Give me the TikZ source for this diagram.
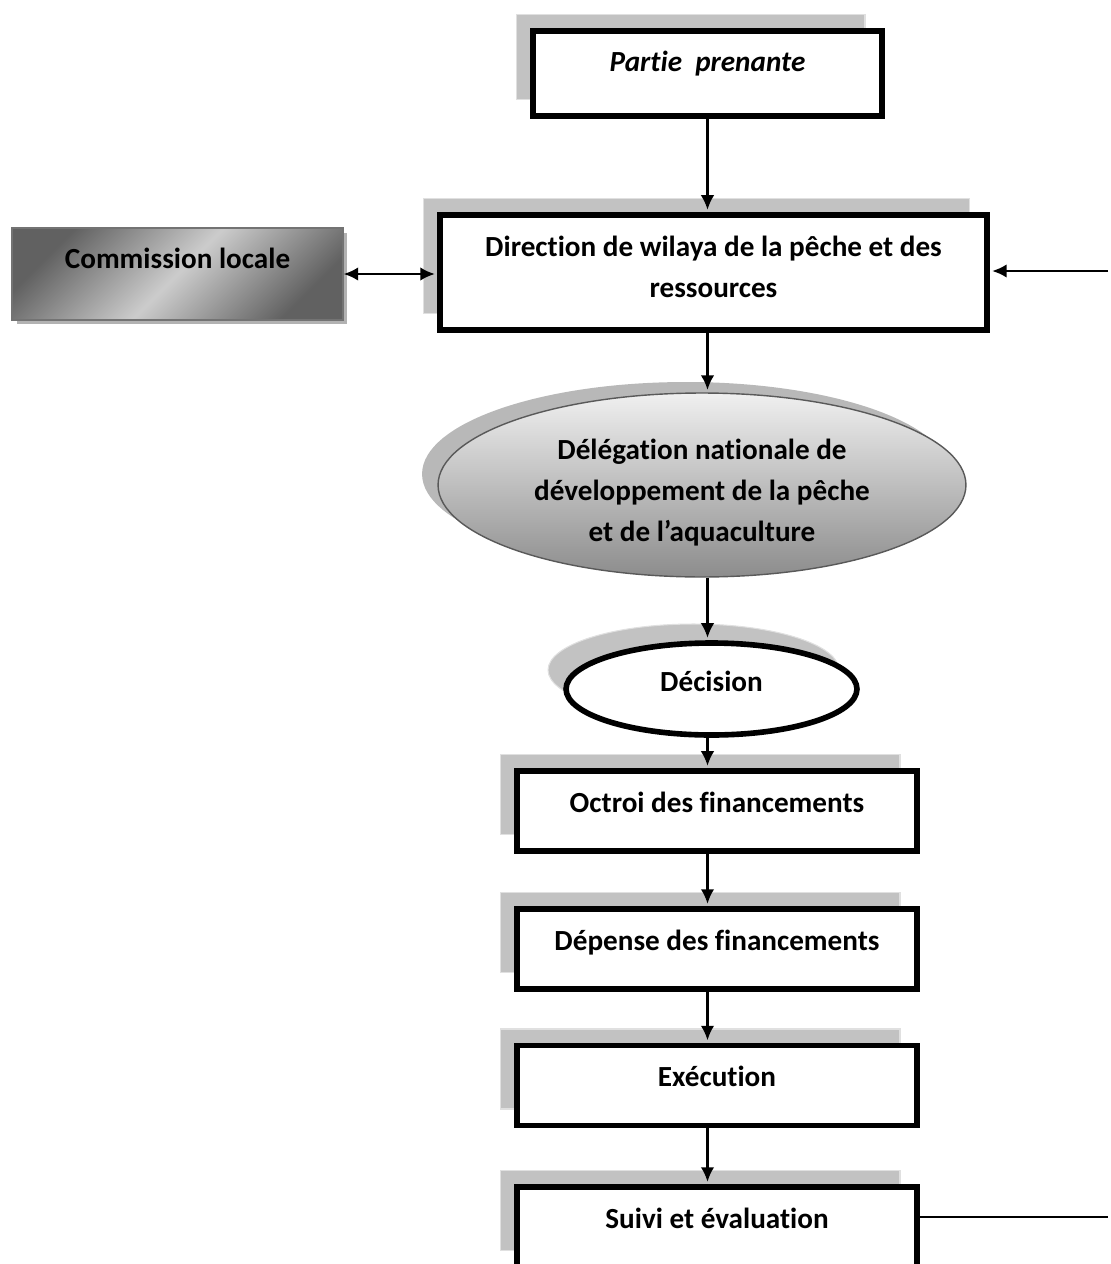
\documentclass[tikz,border=0pt]{standalone}
\usepackage{fontspec}
\setmainfont{Carlito}[Ligatures=NoCommon]
\usepackage{tikz}
\usetikzlibrary{arrows.meta, shapes.geometric, shadows}

\begin{document}
\begin{tikzpicture}[
    x=0.02cm, y=-0.02cm,
    every node/.style={font=\fontsize{16.6}{23.5}\selectfont\bfseries},
    stage/.style={
      rectangle,
      draw=black,
      line width=3.2pt,
      fill=white,
      align=center,
      minimum width=8cm,
      minimum height=1.6cm,
      drop shadow={shadow xshift=-0.34cm, shadow yshift=0.33cm,
        fill=black!24, draw=black!12, line width=0.6pt, opacity=1}
    },
    toptext/.style={text height=0.42cm, text depth=#1},
    commission/.style={
      rectangle,
      draw=black!55,
      line width=0.8pt,
      top color=black!62,
      bottom color=black!62,
      middle color=black!20,
      shading angle=45,
      minimum width=6.62cm,
      minimum height=1.84cm,
      drop shadow={shadow xshift=0.09cm, shadow yshift=-0.09cm,
        fill=black!30, opacity=1}
    },
    delegation/.style={
      ellipse,
      draw=black!65,
      line width=0.8pt,
      top color=black!6,
      bottom color=black!45,
      align=center,
      inner sep=0pt,
      minimum width=10.56cm,
      minimum height=3.68cm,
      drop shadow={shadow xshift=-0.32cm, shadow yshift=0.22cm,
        fill=black!28, opacity=1}
    },
    decision/.style={
      ellipse,
      draw=black,
      line width=3.2pt,
      fill=white,
      minimum width=5.82cm,
      minimum height=1.84cm,
      drop shadow={shadow xshift=-0.36cm, shadow yshift=0.38cm,
        fill=black!24, draw=black!12, line width=0.6pt, opacity=1}
    },
    arrow/.style={-{Latex[length=2.9mm, width=2.7mm]}, line width=1.2pt, shorten >=1.4pt},
    twoway/.style={{Latex[length=2.9mm, width=2.7mm]}-{Latex[length=2.9mm, width=2.7mm]}, line width=1.2pt, shorten >=1.4pt},
    link/.style={line width=1.2pt}
  ]
    \clip (0,0) rectangle (1110,1264);

    \node[stage, toptext=0.5cm, minimum width=6.98cm, minimum height=1.7cm,
      font=\fontsize{16.6}{23.5}\selectfont\bfseries\itshape] (partie) at (707.5,73.5) {Partie\ \ prenante};
    \node[stage, minimum width=10.94cm, minimum height=2.3cm] (direction) at (713.5,272.5)
      {Direction de wilaya de la pêche et des\\ressources\rule[-0.22cm]{0pt}{0.22cm}};
    \node[commission, toptext=0.66cm] (commission) at (177.5,274) {Commission locale};
    \node[delegation] (delegation) at (702,485)
      {\rule{0pt}{0.72cm}Délégation nationale de\\développement de la pêche\\et de l’aquaculture};
    \node[decision, toptext=0.34cm] (decision) at (711.5,689) {Décision};
    \node[stage, toptext=0.38cm] (octroi) at (717,811) {Octroi des financements};
    \node[stage, toptext=0.38cm] (depense) at (717,949) {Dépense des financements};
    \node[stage, toptext=0.38cm] (execution) at (717,1085.5) {Exécution};
    \node[stage, toptext=0.38cm] (suivi) at (717,1227) {Suivi et évaluation};

    \coordinate (retour) at (1108,271);
    \coordinate (sortie) at (1108,1217);

    \draw[arrow] (partie.south) -- (partie.south |- direction.north);
    \draw[twoway] (commission.east) -- (commission.east -| direction.west);
    \draw[arrow] (retour) -- (retour -| direction.east);
    \draw[arrow] (direction.south -| partie) -- (delegation.north -| partie);
    \draw[arrow] (delegation.south -| partie) -- (decision.north -| partie);
    \draw[arrow] (decision.south -| partie) -- (octroi.north -| partie);
    \draw[arrow] (octroi.south -| partie) -- (depense.north -| partie);
    \draw[arrow] (depense.south -| partie) -- (execution.north -| partie);
    \draw[arrow] (execution.south -| partie) -- (suivi.north -| partie);
    \draw[link] (sortie -| suivi.east) -- (sortie);
  \end{tikzpicture}
\end{document}
